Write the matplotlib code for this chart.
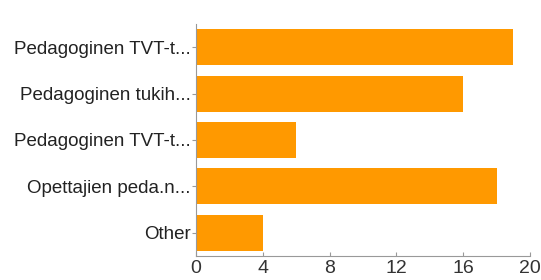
import matplotlib
matplotlib.use("Agg")
import matplotlib.pyplot as plt

categories = [
    "Pedagoginen TVT-t...",
    "Pedagoginen tukih...",
    "Pedagoginen TVT-t...",
    "Opettajien peda.n...",
    "Other",
]
counts = [19, 16, 6, 18, 4]
x_ticks = [0, 4, 8, 12, 16, 20]

plt.rcParams["font.family"] = ["Liberation Sans", "DejaVu Sans"]

fig = plt.figure(figsize=(5.41, 2.80), dpi=100)
ax = fig.add_axes([0.3623, 0.0857, 0.6174, 0.8286])

pos = list(range(len(categories)))
ax.barh(pos, counts, height=0.78, color="#FF9900", edgecolor="none")
ax.set_ylim(len(categories) - 0.5, -0.5)
ax.set_xlim(0, 20)
ax.set_xticks(x_ticks)
ax.set_yticks(pos)
ax.set_yticklabels(categories)

for s in ["top", "right"]:
    ax.spines[s].set_visible(False)
for s in ["left", "bottom"]:
    ax.spines[s].set_color("#999999")
    ax.spines[s].set_linewidth(0.8)

ax.tick_params(axis="y", length=3, color="#999999", labelsize=13.5, labelcolor="#222222", pad=1)
ax.tick_params(axis="x", direction="in", length=3, color="#999999", labelsize=14, labelcolor="#333333", pad=3)

fig.savefig("out.png", dpi=100)
